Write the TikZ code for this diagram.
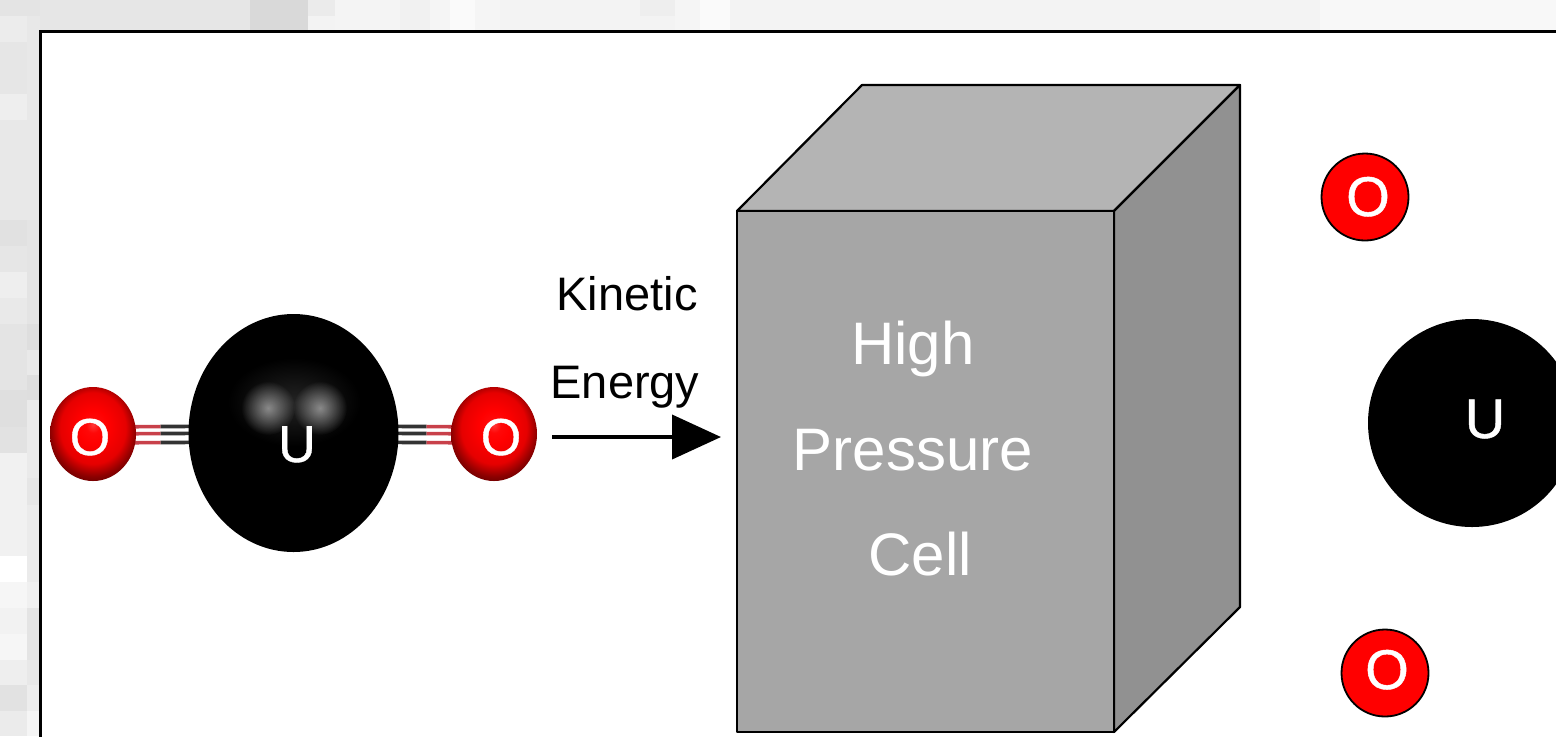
\documentclass[tikz,border=0pt]{standalone}
\usepackage{fontspec}
\setmainfont{Liberation Sans}
\newfontfamily\heavyfont[FakeBold=0.8]{Liberation Sans}
\usetikzlibrary{shapes.geometric,fadings,arrows.meta,calc}
\pgfdeclarelayer{backdrop}
\pgfdeclarelayer{bondlayer}
\pgfsetlayers{backdrop,bondlayer,main}
\pgfdeclareradialshading{redball}{\pgfpoint{0bp}{5bp}}{%
  rgb(0bp)=(1,0.22,0.22);rgb(4bp)=(1,0.03,0.03);rgb(9bp)=(1,0,0);rgb(19bp)=(0.9,0,0);rgb(25bp)=(0.55,0,0);rgb(30bp)=(0.35,0,0);rgb(50bp)=(0.35,0,0)}
\tikzfading[name=softspot,inner color=transparent!50,outer color=transparent!100]
\tikzfading[name=softglow,inner color=transparent!86,outer color=transparent!100]
\definecolor{frontgray}{HTML}{A6A6A6}
\definecolor{topgray}{HTML}{B4B4B4}
\definecolor{sidegray}{HTML}{919191}
\definecolor{bondred}{HTML}{C8404A}
\definecolor{bonddark}{HTML}{333333}
\tikzset{
  x=0.5pt,y=-0.5pt,
  oball/.style={ellipse,inner sep=0pt,minimum width=43pt,minimum height=47pt,shading=redball},
  flatO/.style={circle,inner sep=0pt,minimum size=43.5pt,fill=red,draw=black,line width=0.9pt},
  uball/.style={circle,inner sep=0pt,minimum size=104pt,fill=black},
  whitetext/.style={text=white,anchor=base,inner sep=0pt},
  blacktext/.style={text=black,anchor=base,inner sep=0pt},
  facet/.style={draw=black,line width=1.1pt,line join=round},
  bond/.style={line width=1.8pt},
  spot/.style={circle,inner sep=0pt,minimum size=27pt,fill=white,path fading=softspot},
  glow/.style={ellipse,inner sep=0pt,minimum width=66pt,minimum height=44pt,fill=white,path fading=softglow},
}
\begin{document}
\begin{tikzpicture}
\useasboundingbox (0,0) rectangle (1556,736);
\begin{pgfonlayer}{backdrop}
\fill[white!94!black] (0,0) rectangle (1556,736);
% mottled backdrop: x0/y0/x1/y1/hex
\foreach \xa/\ya/\xb/\yb/\h in {
 0/0/250/31/E6E6E6,250/0/308/31/D9D9D9,308/0/335/16/EBEBEB,308/16/335/31/F3F3F3,335/0/400/31/F4F4F4,
 400/0/430/31/F1F1F1,430/0/450/31/F5F5F5,450/0/475/31/FAFAFA,475/0/500/31/F5F5F5,500/0/640/31/F3F3F3,
 640/0/675/16/EEEEEE,640/16/675/31/F3F3F3,675/0/700/31/F5F5F5,700/0/730/31/FAFAFA,730/0/1320/31/F3F3F3,
 1320/0/1556/31/F8F8F8,
 0/0/40/16/E4E4E4,0/16/27/42/ECECEC,0/42/27/94/E6E6E6,0/94/27/120/EEEEEE,0/120/27/220/E8E8E8,
 0/220/27/246/E1E1E1,0/246/27/272/E6E6E6,0/272/27/298/EEEEEE,0/298/27/324/E9E9E9,0/324/27/390/E4E4E4,
 0/390/27/427/DFDFDF,0/427/27/453/E2E2E2,0/453/27/556/F1F1F1,0/556/27/582/FFFFFF,0/582/27/608/F6F6F6,
 0/608/27/634/F2F2F2,0/634/27/660/F6F6F6,0/660/27/685/EEEEEE,0/685/27/711/E2E2E2,0/711/27/736/EBEBEB,
 27/16/40/220/E8E8E8,27/220/40/324/E4E4E4,27/324/40/350/DEDEDE,27/350/40/375/E9E9E9,27/375/40/400/DEDEDE,
 27/400/40/478/EAEAEA,27/478/40/505/E6E6E6,27/505/40/582/EBEBEB,27/582/40/608/F0F0F0,27/608/40/660/E4E4E4,
 27/660/40/685/E8E8E8,27/685/40/711/EDEDED,27/711/40/736/F5F5F5}{
  \definecolor{tile}{HTML}{\h}
  \fill[tile] (\xa,\ya) rectangle (\xb,\yb);
}
% frame
\draw[fill=white,line width=1.5pt] (40.5,31.5) rectangle (1640,820);
\end{pgfonlayer}

% cube
\path[facet,fill=topgray] (737,211) -- (862,85) -- (1240,85) -- (1114,211) -- cycle;
\path[facet,fill=sidegray] (1114,211) -- (1240,85) -- (1240,607) -- (1114,732) -- cycle;
\path[facet,fill=frontgray] (737,211) rectangle (1114,732);
\node[whitetext,font=\fontsize{30}{30}\selectfont] (high) at (913,364) {High};
\node[whitetext,font=\fontsize{30}{30}\selectfont] (pressure) at (913,470) {Pressure};
\node[whitetext,font=\fontsize{30}{30}\selectfont] (cell) at (920,575) {Cell};

% molecule
\node[oball] (oL) at (93,434) {};
\node[oball] (oR) at (494,434) {};
\node[ellipse,inner sep=0pt,minimum width=105pt,minimum height=119pt,fill=black] (uM) at (293.5,433) {};
\node[glow] (glowM) at (294,402) {};
\node[spot] (spotL) at (268,408) {};
\node[spot] (spotR) at (320,408) {};
\node[whitetext,font=\heavyfont\fontsize{26}{26}\selectfont] (uLabel) at (297,462) {U};
\node[whitetext,font=\heavyfont\fontsize{26}{26}\selectfont] (oLabelL) at (90,455) {O};
\node[whitetext,font=\heavyfont\fontsize{26}{26}\selectfont] (oLabelR) at (501,455) {O};
\coordinate (midL) at ($(oL.east)!0.47!(uM.west)$);
\coordinate (midR) at ($(oR.west)!0.47!(uM.east)$);
\begin{pgfonlayer}{bondlayer}
  \foreach \s in {-9,0,7}{
    \draw[bond,bondred] ([yshift=\s*0.5pt]oL.center) -- ([yshift=\s*0.5pt]midL);
    \draw[bond,bonddark] ([yshift=\s*0.5pt]midL) -- ([yshift=\s*0.5pt]uM.center);
    \draw[bond,bondred] ([yshift=\s*0.5pt]oR.center) -- ([yshift=\s*0.5pt]midR);
    \draw[bond,bonddark] ([yshift=\s*0.5pt]midR) -- ([yshift=\s*0.5pt]uM.center);
  }
\end{pgfonlayer}

% arrow
\node[blacktext,font=\fontsize{23.5}{23.5}\selectfont] (kinetic) at (627,310) {Kinetic};
\node[blacktext,font=\fontsize{23.5}{23.5}\selectfont] (energy) at (625,398) {Energy};
\coordinate (arrowStart) at (552,437);
\coordinate (arrowEnd) at (721,437);
\draw[line width=2pt,-{Triangle[length=24.5pt,width=22pt]}] (arrowStart) -- (arrowEnd);

% separated atoms
\node[flatO] (o1) at (1365,197) {};
\node[flatO] (o2) at (1385,673) {};
\node[uball] (u2) at (1472,423) {};
\node[whitetext,font=\heavyfont\fontsize{28}{28}\selectfont] (o1Label) at (1368,216) {O};
\node[whitetext,font=\heavyfont\fontsize{28}{28}\selectfont] (o2Label) at (1387,689) {O};
\node[whitetext,font=\heavyfont\fontsize{28}{28}\selectfont] (u2Label) at (1485,438) {U};
\end{tikzpicture}
\end{document}
